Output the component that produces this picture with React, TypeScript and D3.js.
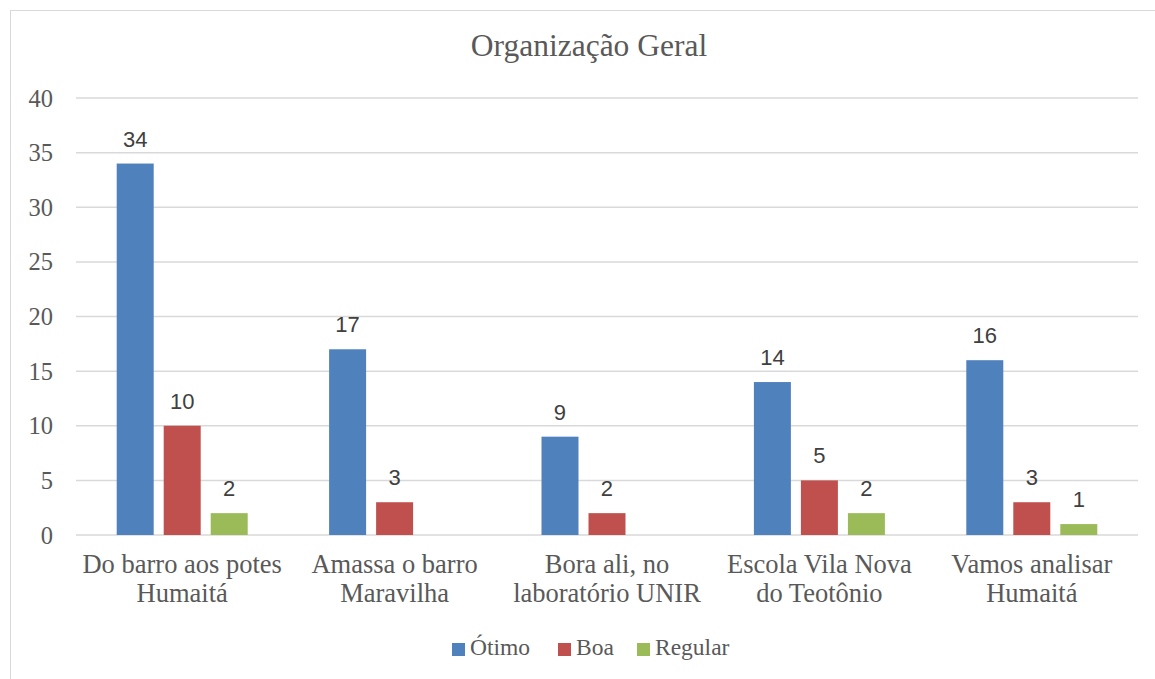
import React, { useEffect, useRef } from "react";
import * as d3 from "d3";

const categories = [
  ["Do barro aos potes", "Humaitá"],
  ["Amassa o barro", "Maravilha"],
  ["Bora ali, no", "laboratório UNIR"],
  ["Escola Vila Nova", "do Teotônio"],
  ["Vamos analisar", "Humaitá"],
];
const seriesNames = ["Ótimo", "Boa", "Regular"];
const otimo = [34, 17, 9, 14, 16];
const boa = [10, 3, 2, 5, 3];
const regular: (number | null)[] = [2, null, null, 2, 1];
const colors = ["#4f81bd", "#c0504d", "#9bbb59"];
const yTicks = [0, 5, 10, 15, 20, 25, 30, 35, 40];

const W = 1155;
const H = 679;
const serif = "'Liberation Serif', serif";
const sans = "'Liberation Sans', 'Open Sans', sans-serif";

export default function App() {
  const ref = useRef<SVGSVGElement>(null);

  useEffect(() => {
    const svg = d3.select(ref.current);
    svg.selectAll("*").remove();

    const left = 76, right = 1138, top = 98, bottom = 535;
    const series = [otimo, boa, regular];

    // chart frame
    svg.append("rect")
      .attr("x", 10.5).attr("y", 10.5)
      .attr("width", 1160).attr("height", 690)
      .attr("fill", "#fff").attr("stroke", "#d9d9d9");

    const y = d3.scaleLinear().domain([0, 40]).range([bottom, top]);
    const x0 = d3.scaleBand().domain(d3.range(categories.length).map(String)).range([left, right]);
    const x1 = d3.scaleBand().domain(["0", "1", "2"])
      .range([x0.bandwidth() / 2 - 65.5, x0.bandwidth() / 2 + 65.5])
      .paddingInner(0.213);

    svg.append("text")
      .attr("x", 589).attr("y", 56)
      .attr("text-anchor", "middle")
      .attr("font-family", serif).attr("font-size", 31.5)
      .attr("fill", "#595959")
      .text("Organização Geral");

    svg.append("g").selectAll("line").data(yTicks).join("line")
      .attr("x1", left).attr("x2", right)
      .attr("y1", d => y(d)).attr("y2", d => y(d))
      .attr("stroke", "#d9d9d9").attr("stroke-width", 1.5);

    svg.append("g").selectAll("text").data(yTicks).join("text")
      .attr("x", 53).attr("y", d => y(d) + 8.5)
      .attr("text-anchor", "end")
      .attr("font-family", serif).attr("font-size", 24.5)
      .attr("fill", "#595959")
      .text(d => d);

    const groups = svg.append("g").selectAll("g").data(categories).join("g")
      .attr("transform", (_, i) => `translate(${x0(String(i))},0)`);

    series.forEach((vals, s) => {
      const has = groups.filter((_, i) => vals[i] != null);
      const val = (d: string[]) => vals[categories.indexOf(d)] as number;
      has.append("rect")
        .attr("x", x1(String(s))!)
        .attr("width", x1.bandwidth())
        .attr("y", d => y(val(d)))
        .attr("height", d => bottom - y(val(d)))
        .attr("fill", colors[s]);
      has.append("text")
        .attr("x", x1(String(s))! + x1.bandwidth() / 2)
        .attr("y", d => y(val(d)) - 17)
        .attr("text-anchor", "middle")
        .attr("font-family", sans).attr("font-size", 22)
        .attr("fill", "#404040")
        .text(d => String(val(d)));
    });

    groups.each(function (d) {
      const t = d3.select(this).append("text")
        .attr("text-anchor", "middle")
        .attr("font-family", serif).attr("font-size", 26.5)
        .attr("fill", "#595959");
      d.forEach((line, k) => {
        t.append("tspan").attr("x", x0.bandwidth() / 2).attr("y", 573 + k * 29).text(line);
      });
    });

    // legend
    const legX = [452, 558, 637];
    const leg = svg.append("g").selectAll("g").data(seriesNames).join("g")
      .attr("transform", (_, i) => `translate(${legX[i]},643)`);
    leg.append("rect").attr("width", 13).attr("height", 13).attr("fill", (_, i) => colors[i]);
    leg.append("text")
      .attr("x", 18).attr("y", 12)
      .attr("font-family", serif).attr("font-size", 23.5)
      .attr("fill", "#595959")
      .text(d => d);
  }, []);

  return (
    <svg ref={ref} width={W} height={H}
      style={{ position: "absolute", left: 0, top: 0, background: "#fff" }} />
  );
}
